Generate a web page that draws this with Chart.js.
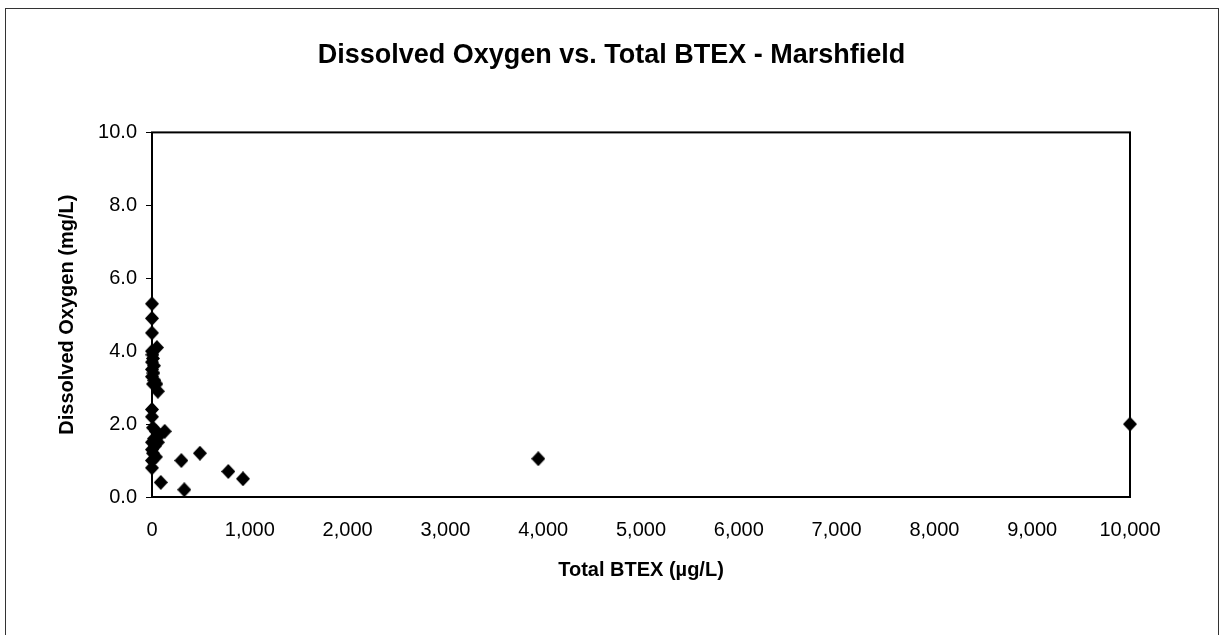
<!DOCTYPE html>
<html>
<head>
<meta charset="utf-8">
<script src="https://cdn.jsdelivr.net/npm/chart.js@4"></script>
<style>
  html, body { margin: 0; padding: 0; background: #fff; overflow: hidden; }
  #wrap { position: relative; width: 1223px; height: 635px; }
  #frame { position: absolute; left: 5px; top: 8px; width: 1212px; height: 640px;
           border: 1px solid #333; pointer-events: none; }
</style>
</head>
<body>
<div id="wrap">
  <canvas id="chart" width="1223" height="635"></canvas>
  <div id="frame"></div>
</div>
<script>
// ==== Data ====
const btex = [0, 0, 0, 0, 5, 10, 0, 20, 0, 15, 0, 25, 10, 50, 45, 60,
  0, 0, 10, 40, 130, 80, 20, 0, 60, 30, 0, 10, 40, 0, 0, 90,
  300, 490, 330, 780, 930, 3950, 10000];
const oxygen = [5.3, 4.9, 4.5, 4.0, 3.9, 3.8, 3.7, 3.6, 3.5, 3.4, 3.3, 3.2, 3.1, 4.1, 3.1, 2.9,
  2.4, 2.2, 1.9, 1.8, 1.8, 1.7, 1.6, 1.5, 1.5, 1.4, 1.3, 1.2, 1.1, 1.0, 0.8, 0.4,
  1.0, 1.2, 0.2, 0.7, 0.5, 1.05, 2.0];
const xTicks = [0, 1000, 2000, 3000, 4000, 5000, 6000, 7000, 8000, 9000, 10000];
const yTicks = [0, 2, 4, 6, 8, 10];

const FONT = "'Liberation Sans', Arial, sans-serif";

// ==== Diamond marker ====
function makeDiamond(w, h) {
  const c = document.createElement("canvas");
  c.width = w; c.height = h;
  const g = c.getContext("2d");
  g.fillStyle = "#000";
  g.beginPath();
  g.moveTo(w / 2, 0);
  g.lineTo(w, h / 2);
  g.lineTo(w / 2, h);
  g.lineTo(0, h / 2);
  g.closePath();
  g.fill();
  return c;
}
const diamond = makeDiamond(14, 15);

// ==== Plot area box ====
const plotBox = {
  id: "plotBox",
  beforeDatasetsDraw(chart) {
    const { ctx, chartArea: a } = chart;
    ctx.save();
    ctx.strokeStyle = "#000";
    ctx.lineWidth = 2;
    ctx.strokeRect(a.left, a.top, a.right - a.left, a.bottom - a.top);
    ctx.restore();
  }
};

const points = btex.map((x, i) => ({ x: x, y: oxygen[i] }));

new Chart(document.getElementById("chart"), {
  type: "scatter",
  data: {
    datasets: [{
      data: points,
      pointStyle: diamond,
      backgroundColor: "#000",
      borderColor: "#000",
      clip: false
    }]
  },
  options: {
    responsive: false,
    animation: false,
    layout: { padding: 0 },
    plugins: {
      legend: { display: false },
      tooltip: { enabled: false },
      title: {
        display: true,
        text: "Dissolved Oxygen vs. Total BTEX - Marshfield",
        color: "#000",
        font: { family: FONT, size: 27, weight: "bold" },
        padding: { top: 39, bottom: 61 }
      }
    },
    scales: {
      x: {
        type: "linear",
        min: 0,
        max: 10000,
        afterBuildTicks: s => { s.ticks = xTicks.map(v => ({ value: v })); },
        afterFit: s => { s.height = 138; s.paddingRight = 93; },
        grid: { display: false, drawTicks: false },
        border: { display: false },
        ticks: {
          color: "#000",
          padding: 21,
          maxRotation: 0,
          font: { family: FONT, size: 20 },
          callback: v => v.toLocaleString("en-US")
        },
        title: {
          display: true,
          text: "Total BTEX (µg/L)",
          color: "#000",
          font: { family: FONT, size: 20, weight: "bold" },
          padding: { top: 0, bottom: 53 }
        }
      },
      y: {
        min: 0,
        max: 10,
        afterBuildTicks: s => { s.ticks = yTicks.map(v => ({ value: v })); },
        afterFit: s => { s.width = 152; },
        grid: { drawOnChartArea: false, drawTicks: true, tickLength: 6, color: "#000" },
        border: { display: false },
        ticks: {
          color: "#000",
          padding: 9,
          font: { family: FONT, size: 20 },
          callback: v => v.toFixed(1)
        },
        title: {
          display: true,
          text: "Dissolved Oxygen (mg/L)",
          color: "#000",
          font: { family: FONT, size: 20, weight: "bold" },
          padding: { top: 55, bottom: 0 }
        }
      }
    }
  },
  plugins: [plotBox]
});
</script>
</body>
</html>
